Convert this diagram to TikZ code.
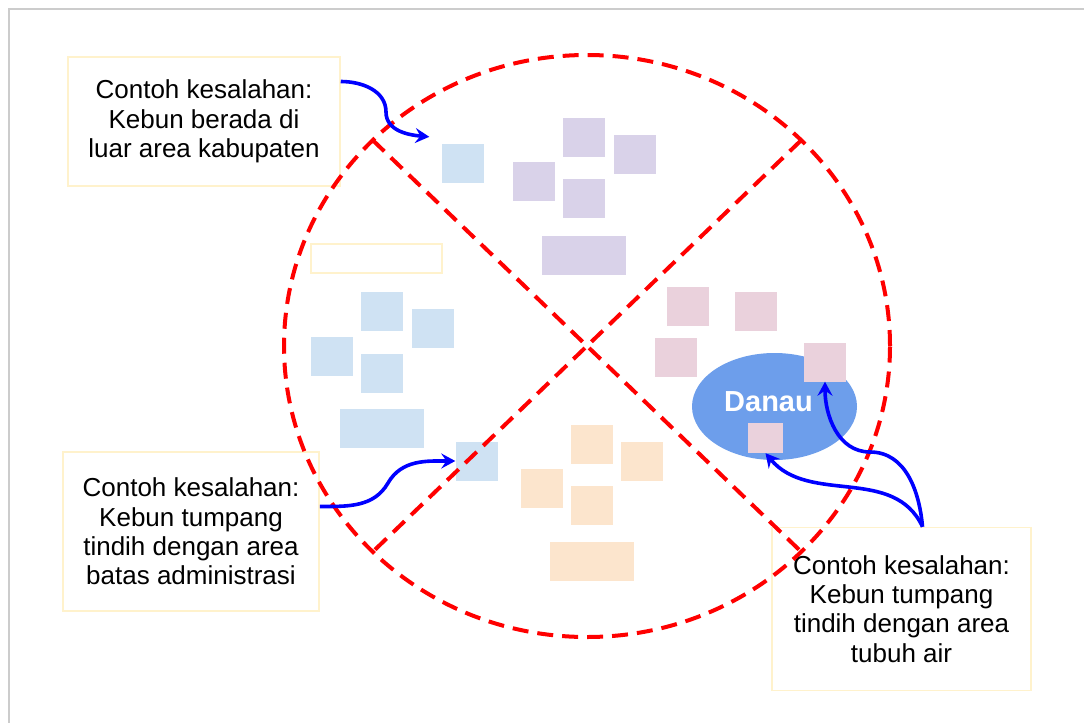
\documentclass[tikz,border=0pt]{standalone}
\usepackage{fontspec}
\setmainfont{Liberation Sans}
\usetikzlibrary{arrows.meta,shapes.geometric}
\definecolor{tepi}{RGB}{204,204,204}
\definecolor{kuning}{RGB}{255,242,204}
\definecolor{birumuda}{RGB}{207,226,243}
\definecolor{ungumuda}{RGB}{217,210,233}
\definecolor{oranyemuda}{RGB}{252,229,205}
\definecolor{merahmuda}{RGB}{234,209,220}
\definecolor{airdanau}{RGB}{109,158,235}
\definecolor{birupanah}{RGB}{0,0,255}
\definecolor{merahgaris}{RGB}{255,0,0}
\newcommand{\salah}[1]{Contoh kesalahan:\\#1}

\begin{document}
\begin{tikzpicture}[
    x=1pt,y=-1pt,
    catatan/.style={rectangle,draw=kuning,fill=white,line width=1.5pt,align=center,
      inner sep=0pt,font=\fontsize{26}{29.3}\selectfont},
    petak/.style={rectangle,inner sep=0pt,minimum width=42pt,minimum height=39pt,fill=#1},
    lebar/.style={petak=#1,minimum width=84pt},
    garis/.style={draw=merahgaris,line width=4pt,dash pattern=on 16pt off 9pt},
    panah/.style={-{Stealth[length=14pt,width=15pt,inset=5pt]},draw=birupanah,line width=3.6pt}
  ]
    \useasboundingbox (0,0) rectangle (1084,723);
    \draw[tepi,line width=2pt] (1084,9) -- (9,9) -- (9,723);

    % kebun biru
    \node[petak=birumuda] (biru0) at (462.5,163.5) {};
    \node[petak=birumuda] (biru1) at (382,311.5) {};
    \node[petak=birumuda] (biru2) at (432.5,328) {};
    \node[petak=birumuda] (biru3) at (332,356) {};
    \node[petak=birumuda] (biru4) at (382,373) {};
    \node[lebar=birumuda] (biru5) at (381.5,428.5) {};
    \node[petak=birumuda] (biru6) at (476.5,461) {};
    \node[rectangle,draw=kuning,line width=1.5pt,minimum width=131pt,minimum height=29pt]
      (kosong) at (376.5,258.5) {};

    % kebun ungu
    \node[petak=ungumuda] (ungu1) at (583.5,137.5) {};
    \node[petak=ungumuda] (ungu2) at (634.5,154) {};
    \node[petak=ungumuda] (ungu3) at (534,181.5) {};
    \node[petak=ungumuda] (ungu4) at (583.5,198.5) {};
    \node[lebar=ungumuda] (ungu5) at (583.5,255) {};

    % kebun oranye
    \node[petak=oranyemuda] (oranye1) at (592,444) {};
    \node[petak=oranyemuda] (oranye2) at (642,461) {};
    \node[petak=oranyemuda] (oranye3) at (541.5,488.5) {};
    \node[petak=oranyemuda] (oranye4) at (592,505.5) {};
    \node[lebar=oranyemuda] (oranye5) at (592,561.5) {};

    % danau dan kebun merah muda
    \node[ellipse,fill=airdanau,inner sep=0pt,minimum width=165pt,minimum height=107pt]
      (danau) at (774.5,406.5) {};
    \node[text=white,inner sep=0pt,font=\bfseries\fontsize{29}{30}\selectfont]
      (danaulabel) at (768.5,401.5) {Danau};
    \node[petak=merahmuda] (merah1) at (688,306.5) {};
    \node[petak=merahmuda] (merah2) at (755.5,311.5) {};
    \node[petak=merahmuda] (merah3) at (676,357) {};
    \node[petak=merahmuda] (merah4) at (825,362) {};
    \node[petak=merahmuda,minimum width=35pt,minimum height=30pt] (danaukotak) at (765.5,438) {};

    % catatan
    \node[catatan,minimum width=272pt,minimum height=129pt] (catatan1) at (204,121.5)
      {\salah{Kebun berada di\\luar area kabupaten}};
    \node[catatan,minimum width=256pt,minimum height=159pt] (catatan2) at (191,531.5)
      {\salah{Kebun tumpang\\tindih dengan area\\batas administrasi}};
    \node[catatan,minimum width=259pt,minimum height=163pt] (catatan3) at (901.5,609)
      {\salah{Kebun tumpang\\tindih dengan area\\tubuh air}};

    % tanda silang
    \coordinate (pusat) at (587,346);
    \coordinate (kiriatas) at (372.75,140.2);
    \coordinate (kananbawah) at (801.25,551.8);
    \coordinate (kananatas) at (801.25,140.2);
    \coordinate (kiribawah) at (372.75,551.8);
    \draw[garis] (pusat) ellipse [x radius=303pt,y radius=291pt];
    \draw[garis] (kiriatas) -- (kananbawah);
    \draw[garis] (kananatas) -- (kiribawah);

    \draw[panah] ([yshift=40pt]catatan1.east) to[out=0,in=90] (386,112)
      to[out=-90,in=175] ([shift={(-12pt,7pt)}]biru0.north west);
    \draw[panah] ([yshift=25pt]catatan2.east) to[out=0,in=-120] (388,483)
      to[out=60,in=180] (biru6.west);
    \draw[panah] ([xshift=21pt]catatan3.north) to[out=115,in=-50] (danaukotak.south);
    \draw[panah] ([xshift=21pt]catatan3.north) to[out=95,in=0] (870,452)
      to[out=180,in=-90] (merah4.south);
  \end{tikzpicture}
\end{document}
